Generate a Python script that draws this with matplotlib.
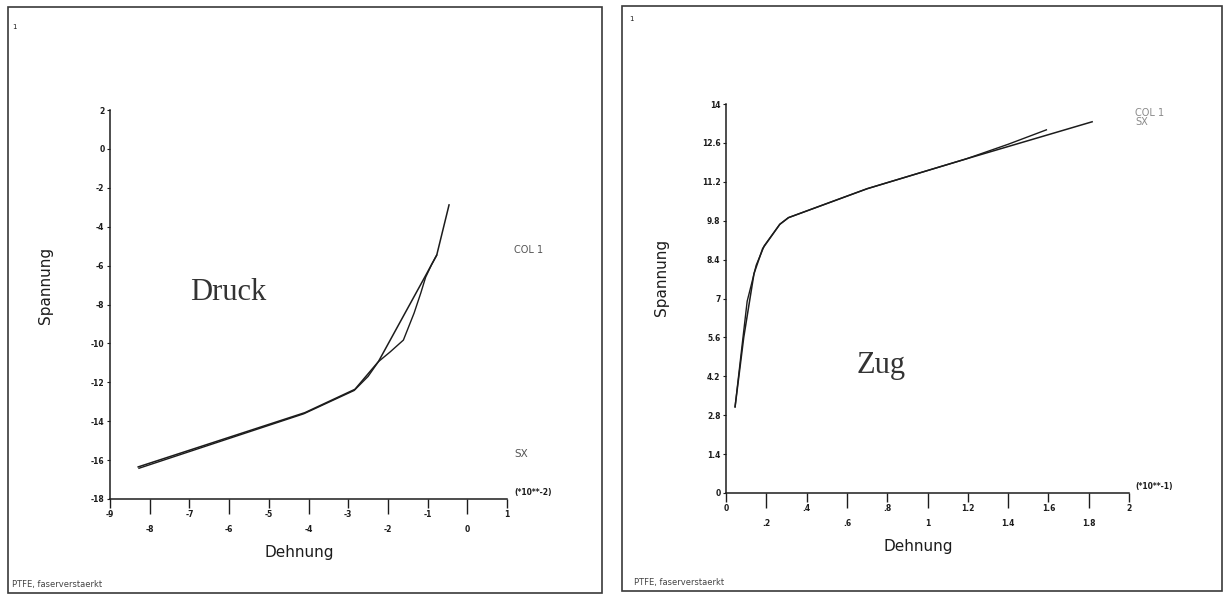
"""Stress-strain curves of fibre-reinforced PTFE, compression and tension side by side."""

import matplotlib

matplotlib.use("Agg")

import matplotlib.pyplot as plt
from matplotlib.patches import Rectangle

W, H = 1225, 596
INK = "#1c1c1c"

# compression (Druck), strain in units of 1e-2
druck_col1_x = [-8.29, -4.09, -2.83, -2.24, -1.02, -0.77, -0.46]
druck_col1_y = [-16.35, -13.56, -12.36, -10.94, -6.40, -5.46, -2.88]
druck_sx_x = [-8.27, -4.12, -2.85, -2.50, -2.24, -1.95, -1.61, -1.34, -1.17, -1.05, -0.90, -0.77]
druck_sx_y = [-16.42, -13.62, -12.42, -11.70, -10.94, -10.45, -9.83, -8.44, -7.40, -6.60, -5.95, -5.46]

# tension (Zug), strain in units of 1e-1
zug_col1_x = [0.045, 0.088, 0.139, 0.182, 0.267, 0.310, 0.70, 1.19, 1.817]
zug_col1_y = [3.10, 5.60, 7.90, 8.80, 9.67, 9.91, 10.95, 12.02, 13.36]
zug_sx_x = [0.045, 0.078, 0.105, 0.150, 0.190, 0.267, 0.310, 0.70, 1.19, 1.40, 1.59]
zug_sx_y = [3.10, 5.20, 6.90, 8.20, 8.90, 9.67, 9.91, 10.95, 12.02, 12.55, 13.07]

druck_xticks_top = [-9, -7, -5, -3, -1, 1]
druck_xticks_bottom = [-8, -6, -4, -2, 0]
druck_yticks = [2, 0, -2, -4, -6, -8, -10, -12, -14, -16, -18]

zug_xticks_top = [0, 0.4, 0.8, 1.2, 1.6, 2]
zug_xticks_bottom = [0.2, 0.6, 1.0, 1.4, 1.8]
zug_xlabels_top = ["0", ".4", ".8", "1.2", "1.6", "2"]
zug_xlabels_bottom = [".2", ".6", "1", "1.4", "1.8"]
zug_yticks = [14, 12.6, 11.2, 9.8, 8.4, 7, 5.6, 4.2, 2.8, 1.4, 0]
zug_ylabels = ["14", "12.6", "11.2", "9.8", "8.4", "7", "5.6", "4.2", "2.8", "1.4", "0"]


def px(x, y):
    """Pixel position (origin top-left) to figure fraction."""
    return x / W, 1 - y / H


def add_axes_px(fig, x0, y0, x1, y1):
    left, top = px(x0, y0)
    right, bottom = px(x1, y1)
    return fig.add_axes([left, bottom, right - left, top - bottom])


def style_axes(ax, xlim, ylim):
    ax.set_xlim(*xlim)
    ax.set_ylim(*ylim)
    ax.patch.set_alpha(0)
    for side in ("top", "right"):
        ax.spines[side].set_visible(False)
    for side in ("left", "bottom"):
        ax.spines[side].set_color(INK)
        ax.spines[side].set_linewidth(1.1)
    ax.tick_params(axis="x", which="major", length=6.5, width=1.0, pad=1.5,
                   color=INK, labelsize=5.5, labelcolor=INK)
    ax.tick_params(axis="x", which="minor", length=10.8, width=1.0, pad=8,
                   color=INK, labelsize=5.5, labelcolor=INK)
    ax.tick_params(axis="y", length=2.5, width=0.8, pad=1.5, color=INK,
                   labelsize=5.5, labelcolor=INK)
    for lab in ax.get_xticklabels(which="both") + ax.get_yticklabels():
        lab.set_fontweight("bold")


def frame(fig, x0, y0, x1, y1):
    left, top = px(x0, y0)
    right, bottom = px(x1, y1)
    fig.patches.append(Rectangle((left, bottom), right - left, top - bottom,
                                 transform=fig.transFigure, fill=False,
                                 edgecolor="#3a3a3a", linewidth=1.2))


def fig_text(fig, x, y, s, **kw):
    kw.setdefault("color", INK)
    kw.setdefault("va", "center")
    fig.text(*px(x, y), s, **kw)


def main() -> None:
    fig = plt.figure(figsize=(W / 100, H / 100), dpi=100)
    fig.patch.set_facecolor("white")

    # left panel: compression
    frame(fig, 8, 7, 602, 593)
    ax1 = add_axes_px(fig, 110, 110, 507, 499)
    ax1.plot(druck_col1_x, druck_col1_y, color=INK, lw=1.1)
    ax1.plot(druck_sx_x, druck_sx_y, color=INK, lw=1.0)
    ax1.set_xticks(druck_xticks_top, labels=[str(v) for v in druck_xticks_top])
    ax1.set_xticks(druck_xticks_bottom, labels=[str(v) for v in druck_xticks_bottom],
                   minor=True)
    ax1.set_yticks(druck_yticks, labels=[str(v) for v in druck_yticks])
    style_axes(ax1, (-9, 1), (-18, 2))

    fig_text(fig, 14, 27, "1", fontsize=5, ha="center")
    fig_text(fig, 45, 285, "Spannung", fontsize=11, rotation=90, ha="center")
    fig_text(fig, 299, 553, "Dehnung", fontsize=11, ha="center")
    fig_text(fig, 228, 293, "Druck", fontsize=22, ha="center",
             family="Liberation Serif", color="#333333")
    fig_text(fig, 514, 250, "COL 1", fontsize=7, ha="left", color="#555555")
    fig_text(fig, 514, 454, "SX", fontsize=7.5, ha="left", color="#555555")
    fig_text(fig, 514, 493, "(*10**-2)", fontsize=5.5, ha="left", weight="bold")
    fig_text(fig, 12, 585, "PTFE, faserverstaerkt", fontsize=6, ha="left",
             color="#444444")

    # right panel: tension
    frame(fig, 622, 6, 1222, 591)
    ax2 = add_axes_px(fig, 726, 104, 1129, 493)
    ax2.plot(zug_col1_x, zug_col1_y, color=INK, lw=1.1)
    ax2.plot(zug_sx_x, zug_sx_y, color=INK, lw=1.0)
    ax2.set_xticks(zug_xticks_top, labels=zug_xlabels_top)
    ax2.set_xticks(zug_xticks_bottom, labels=zug_xlabels_bottom, minor=True)
    ax2.set_yticks(zug_yticks, labels=zug_ylabels)
    style_axes(ax2, (0, 2), (0, 14))

    fig_text(fig, 631, 19, "1", fontsize=5, ha="center")
    fig_text(fig, 662, 277, "Spannung", fontsize=11, rotation=90, ha="center")
    fig_text(fig, 918, 547, "Dehnung", fontsize=11, ha="center")
    fig_text(fig, 881, 365, "Zug", fontsize=22, ha="center",
             family="Liberation Serif", color="#333333")
    # the two series labels sit almost on top of each other here
    fig_text(fig, 1135, 113, "COL 1", fontsize=7, ha="left", color="#8a8a8a")
    fig_text(fig, 1135, 122, "SX", fontsize=7, ha="left", color="#8a8a8a")
    fig_text(fig, 1135, 487, "(*10**-1)", fontsize=5.5, ha="left", weight="bold")
    fig_text(fig, 634, 582, "PTFE, faserverstaerkt", fontsize=6, ha="left",
             color="#444444")

    fig.savefig("out.png", dpi=100, facecolor="white")
    plt.close(fig)


if __name__ == "__main__":
    main()
